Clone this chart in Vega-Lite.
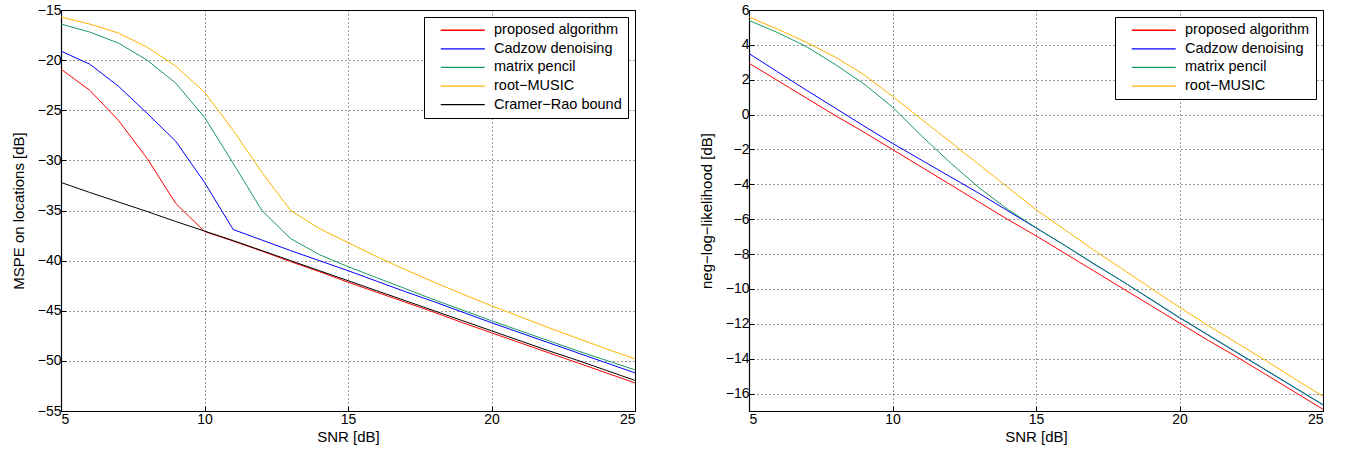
{
  "$schema": "https://vega.github.io/schema/vega-lite/v6.json",
  "background": "white",
  "padding": {"left": 10, "top": 2, "right": 5, "bottom": 2},
  "spacing": 62,
  "config": {
    "font": "Liberation Sans",
    "view": {"stroke": "black", "strokeWidth": 1},
    "axis": {
      "labelFont": "Liberation Sans", "labelFontSize": 14, "labelColor": "black",
      "titleFont": "Liberation Sans", "titleFontSize": 15, "titleFontWeight": "normal", "titleColor": "black",
      "domainColor": "black", "domainWidth": 1.2,
      "grid": true, "gridColor": "black", "gridDash": [1, 3], "gridOpacity": 0.8, "gridWidth": 1,
      "ticks": true, "tickSize": -5, "tickColor": "black",
      "labelPadding": 5
    },
    "axisX": {"titlePadding": 3, "labelPadding": 6},
    "axisY": {"titlePadding": 11},
    "legend": {
      "orient": "top-right", "offset": 7, "strokeColor": "black", "fillColor": "white",
      "padding": 6, "symbolType": "M-4,0H4", "symbolSize": 121, "symbolStrokeWidth": 1.3,
      "symbolOffset": 25.5,
      "labelFont": "Liberation Sans", "labelFontSize": 14.5, "labelColor": "black", "labelLimit": 300,
      "rowPadding": 3.6, "labelOffset": 24
    }
  },
  "datasets": {
    "mspe": [
      {"snr":5,"method":"proposed algorithm","v":-20.9},{"snr":6,"method":"proposed algorithm","v":-23.0},{"snr":7,"method":"proposed algorithm","v":-26.0},{"snr":8,"method":"proposed algorithm","v":-29.8},{"snr":9,"method":"proposed algorithm","v":-34.3},{"snr":10,"method":"proposed algorithm","v":-37.1},{"snr":11,"method":"proposed algorithm","v":-38.05},{"snr":12,"method":"proposed algorithm","v":-39.05},{"snr":13,"method":"proposed algorithm","v":-40.1},{"snr":14,"method":"proposed algorithm","v":-41.1},{"snr":15,"method":"proposed algorithm","v":-42.15},{"snr":16,"method":"proposed algorithm","v":-43.15},{"snr":17,"method":"proposed algorithm","v":-44.15},{"snr":18,"method":"proposed algorithm","v":-45.15},{"snr":19,"method":"proposed algorithm","v":-46.2},{"snr":20,"method":"proposed algorithm","v":-47.2},{"snr":21,"method":"proposed algorithm","v":-48.2},{"snr":22,"method":"proposed algorithm","v":-49.2},{"snr":23,"method":"proposed algorithm","v":-50.2},{"snr":24,"method":"proposed algorithm","v":-51.2},{"snr":25,"method":"proposed algorithm","v":-52.2},
      {"snr":5,"method":"Cadzow denoising","v":-19.1},{"snr":6,"method":"Cadzow denoising","v":-20.4},{"snr":7,"method":"Cadzow denoising","v":-22.6},{"snr":8,"method":"Cadzow denoising","v":-25.3},{"snr":9,"method":"Cadzow denoising","v":-28.1},{"snr":10,"method":"Cadzow denoising","v":-32.2},{"snr":11,"method":"Cadzow denoising","v":-36.9},{"snr":12,"method":"Cadzow denoising","v":-37.95},{"snr":13,"method":"Cadzow denoising","v":-39.0},{"snr":14,"method":"Cadzow denoising","v":-40.0},{"snr":15,"method":"Cadzow denoising","v":-41.0},{"snr":16,"method":"Cadzow denoising","v":-42.05},{"snr":17,"method":"Cadzow denoising","v":-43.1},{"snr":18,"method":"Cadzow denoising","v":-44.1},{"snr":19,"method":"Cadzow denoising","v":-45.15},{"snr":20,"method":"Cadzow denoising","v":-46.2},{"snr":21,"method":"Cadzow denoising","v":-47.2},{"snr":22,"method":"Cadzow denoising","v":-48.2},{"snr":23,"method":"Cadzow denoising","v":-49.2},{"snr":24,"method":"Cadzow denoising","v":-50.2},{"snr":25,"method":"Cadzow denoising","v":-51.2},
      {"snr":5,"method":"matrix pencil","v":-16.4},{"snr":6,"method":"matrix pencil","v":-17.2},{"snr":7,"method":"matrix pencil","v":-18.3},{"snr":8,"method":"matrix pencil","v":-20.0},{"snr":9,"method":"matrix pencil","v":-22.3},{"snr":10,"method":"matrix pencil","v":-25.7},{"snr":11,"method":"matrix pencil","v":-30.3},{"snr":12,"method":"matrix pencil","v":-35.0},{"snr":13,"method":"matrix pencil","v":-37.8},{"snr":14,"method":"matrix pencil","v":-39.4},{"snr":15,"method":"matrix pencil","v":-40.6},{"snr":16,"method":"matrix pencil","v":-41.7},{"snr":17,"method":"matrix pencil","v":-42.8},{"snr":18,"method":"matrix pencil","v":-43.9},{"snr":19,"method":"matrix pencil","v":-44.95},{"snr":20,"method":"matrix pencil","v":-46.0},{"snr":21,"method":"matrix pencil","v":-47.0},{"snr":22,"method":"matrix pencil","v":-48.0},{"snr":23,"method":"matrix pencil","v":-49.0},{"snr":24,"method":"matrix pencil","v":-49.95},{"snr":25,"method":"matrix pencil","v":-50.9},
      {"snr":5,"method":"root−MUSIC","v":-15.7},{"snr":6,"method":"root−MUSIC","v":-16.4},{"snr":7,"method":"root−MUSIC","v":-17.3},{"snr":8,"method":"root−MUSIC","v":-18.7},{"snr":9,"method":"root−MUSIC","v":-20.6},{"snr":10,"method":"root−MUSIC","v":-23.2},{"snr":11,"method":"root−MUSIC","v":-27.0},{"snr":12,"method":"root−MUSIC","v":-31.2},{"snr":13,"method":"root−MUSIC","v":-35.0},{"snr":14,"method":"root−MUSIC","v":-36.8},{"snr":15,"method":"root−MUSIC","v":-38.2},{"snr":16,"method":"root−MUSIC","v":-39.6},{"snr":17,"method":"root−MUSIC","v":-40.9},{"snr":18,"method":"root−MUSIC","v":-42.15},{"snr":19,"method":"root−MUSIC","v":-43.35},{"snr":20,"method":"root−MUSIC","v":-44.5},{"snr":21,"method":"root−MUSIC","v":-45.6},{"snr":22,"method":"root−MUSIC","v":-46.7},{"snr":23,"method":"root−MUSIC","v":-47.75},{"snr":24,"method":"root−MUSIC","v":-48.8},{"snr":25,"method":"root−MUSIC","v":-49.8},
      {"snr":5,"method":"Cramer−Rao bound","v":-32.2},{"snr":6,"method":"Cramer−Rao bound","v":-33.2},{"snr":7,"method":"Cramer−Rao bound","v":-34.15},{"snr":8,"method":"Cramer−Rao bound","v":-35.1},{"snr":9,"method":"Cramer−Rao bound","v":-36.1},{"snr":10,"method":"Cramer−Rao bound","v":-37.05},{"snr":11,"method":"Cramer−Rao bound","v":-38.0},{"snr":12,"method":"Cramer−Rao bound","v":-39.0},{"snr":13,"method":"Cramer−Rao bound","v":-40.0},{"snr":14,"method":"Cramer−Rao bound","v":-41.0},{"snr":15,"method":"Cramer−Rao bound","v":-42.0},{"snr":16,"method":"Cramer−Rao bound","v":-43.0},{"snr":17,"method":"Cramer−Rao bound","v":-44.0},{"snr":18,"method":"Cramer−Rao bound","v":-45.0},{"snr":19,"method":"Cramer−Rao bound","v":-46.0},{"snr":20,"method":"Cramer−Rao bound","v":-47.0},{"snr":21,"method":"Cramer−Rao bound","v":-48.0},{"snr":22,"method":"Cramer−Rao bound","v":-49.0},{"snr":23,"method":"Cramer−Rao bound","v":-49.95},{"snr":24,"method":"Cramer−Rao bound","v":-50.95},{"snr":25,"method":"Cramer−Rao bound","v":-51.95}
    ],
    "nll": [
      {"snr":5,"method":"proposed algorithm","v":2.95},{"snr":6,"method":"proposed algorithm","v":1.95},{"snr":7,"method":"proposed algorithm","v":0.95},{"snr":8,"method":"proposed algorithm","v":-0.05},{"snr":9,"method":"proposed algorithm","v":-1.0},{"snr":10,"method":"proposed algorithm","v":-2.0},{"snr":11,"method":"proposed algorithm","v":-3.0},{"snr":12,"method":"proposed algorithm","v":-4.0},{"snr":13,"method":"proposed algorithm","v":-5.0},{"snr":14,"method":"proposed algorithm","v":-6.0},{"snr":15,"method":"proposed algorithm","v":-6.95},{"snr":16,"method":"proposed algorithm","v":-7.95},{"snr":17,"method":"proposed algorithm","v":-8.95},{"snr":18,"method":"proposed algorithm","v":-9.95},{"snr":19,"method":"proposed algorithm","v":-10.95},{"snr":20,"method":"proposed algorithm","v":-11.95},{"snr":21,"method":"proposed algorithm","v":-12.95},{"snr":22,"method":"proposed algorithm","v":-13.9},{"snr":23,"method":"proposed algorithm","v":-14.9},{"snr":24,"method":"proposed algorithm","v":-15.9},{"snr":25,"method":"proposed algorithm","v":-16.9},
      {"snr":5,"method":"Cadzow denoising","v":3.5},{"snr":6,"method":"Cadzow denoising","v":2.45},{"snr":7,"method":"Cadzow denoising","v":1.4},{"snr":8,"method":"Cadzow denoising","v":0.38},{"snr":9,"method":"Cadzow denoising","v":-0.65},{"snr":10,"method":"Cadzow denoising","v":-1.65},{"snr":11,"method":"Cadzow denoising","v":-2.6},{"snr":12,"method":"Cadzow denoising","v":-3.55},{"snr":13,"method":"Cadzow denoising","v":-4.5},{"snr":14,"method":"Cadzow denoising","v":-5.5},{"snr":15,"method":"Cadzow denoising","v":-6.5},{"snr":16,"method":"Cadzow denoising","v":-7.5},{"snr":17,"method":"Cadzow denoising","v":-8.55},{"snr":18,"method":"Cadzow denoising","v":-9.55},{"snr":19,"method":"Cadzow denoising","v":-10.6},{"snr":20,"method":"Cadzow denoising","v":-11.65},{"snr":21,"method":"Cadzow denoising","v":-12.65},{"snr":22,"method":"Cadzow denoising","v":-13.65},{"snr":23,"method":"Cadzow denoising","v":-14.65},{"snr":24,"method":"Cadzow denoising","v":-15.65},{"snr":25,"method":"Cadzow denoising","v":-16.65},
      {"snr":5,"method":"matrix pencil","v":5.4},{"snr":6,"method":"matrix pencil","v":4.7},{"snr":7,"method":"matrix pencil","v":3.9},{"snr":8,"method":"matrix pencil","v":2.88},{"snr":9,"method":"matrix pencil","v":1.77},{"snr":10,"method":"matrix pencil","v":0.43},{"snr":11,"method":"matrix pencil","v":-1.2},{"snr":12,"method":"matrix pencil","v":-2.74},{"snr":13,"method":"matrix pencil","v":-4.17},{"snr":14,"method":"matrix pencil","v":-5.42},{"snr":15,"method":"matrix pencil","v":-6.48},{"snr":16,"method":"matrix pencil","v":-7.5},{"snr":17,"method":"matrix pencil","v":-8.53},{"snr":18,"method":"matrix pencil","v":-9.55},{"snr":19,"method":"matrix pencil","v":-10.58},{"snr":20,"method":"matrix pencil","v":-11.63},{"snr":21,"method":"matrix pencil","v":-12.63},{"snr":22,"method":"matrix pencil","v":-13.63},{"snr":23,"method":"matrix pencil","v":-14.63},{"snr":24,"method":"matrix pencil","v":-15.63},{"snr":25,"method":"matrix pencil","v":-16.63},
      {"snr":5,"method":"root−MUSIC","v":5.6},{"snr":6,"method":"root−MUSIC","v":4.9},{"snr":7,"method":"root−MUSIC","v":4.15},{"snr":8,"method":"root−MUSIC","v":3.3},{"snr":9,"method":"root−MUSIC","v":2.3},{"snr":10,"method":"root−MUSIC","v":1.05},{"snr":11,"method":"root−MUSIC","v":-0.25},{"snr":12,"method":"root−MUSIC","v":-1.55},{"snr":13,"method":"root−MUSIC","v":-2.85},{"snr":14,"method":"root−MUSIC","v":-4.15},{"snr":15,"method":"root−MUSIC","v":-5.45},{"snr":16,"method":"root−MUSIC","v":-6.6},{"snr":17,"method":"root−MUSIC","v":-7.75},{"snr":18,"method":"root−MUSIC","v":-8.85},{"snr":19,"method":"root−MUSIC","v":-9.95},{"snr":20,"method":"root−MUSIC","v":-11.05},{"snr":21,"method":"root−MUSIC","v":-12.1},{"snr":22,"method":"root−MUSIC","v":-13.1},{"snr":23,"method":"root−MUSIC","v":-14.1},{"snr":24,"method":"root−MUSIC","v":-15.15},{"snr":25,"method":"root−MUSIC","v":-16.15}
    ]
  },
  "resolve": {"scale": {"color": "independent"}, "legend": {"color": "independent"}},
  "hconcat": [
    {
      "width": 574, "height": 401,
      "data": {"name": "mspe"},
      "mark": {"type": "line", "strokeWidth": 1, "clip": true},
      "encoding": {
        "x": {"field": "snr", "type": "quantitative", "scale": {"domain": [5, 25], "nice": false},
              "axis": {"values": [5, 10, 15, 20, 25], "title": "SNR [dB]"}},
        "y": {"field": "v", "type": "quantitative", "scale": {"domain": [-55, -15], "nice": false, "zero": false},
              "axis": {"values": [-55, -50, -45, -40, -35, -30, -25, -20, -15], "title": "MSPE on locations [dB]"}},
        "color": {"field": "method", "type": "nominal",
                  "scale": {"domain": ["proposed algorithm", "Cadzow denoising", "matrix pencil", "root−MUSIC", "Cramer−Rao bound"],
                            "range": ["#ff0000", "#0000ff", "#1a9a5c", "#ffb300", "#000000"]},
                  "legend": {"title": null}}
      }
    },
    {
      "width": 574, "height": 401,
      "data": {"name": "nll"},
      "mark": {"type": "line", "strokeWidth": 1, "clip": true},
      "encoding": {
        "x": {"field": "snr", "type": "quantitative", "scale": {"domain": [5, 25], "nice": false},
              "axis": {"values": [5, 10, 15, 20, 25], "title": "SNR [dB]"}},
        "y": {"field": "v", "type": "quantitative", "scale": {"domain": [-17, 6], "nice": false, "zero": false},
              "axis": {"values": [-16, -14, -12, -10, -8, -6, -4, -2, 0, 2, 4, 6], "title": "neg−log−likelihood [dB]"}},
        "color": {"field": "method", "type": "nominal",
                  "scale": {"domain": ["proposed algorithm", "Cadzow denoising", "matrix pencil", "root−MUSIC"],
                            "range": ["#ff0000", "#0000ff", "#1a9a5c", "#ffb300"]},
                  "legend": {"title": null}}
      }
    }
  ]
}
